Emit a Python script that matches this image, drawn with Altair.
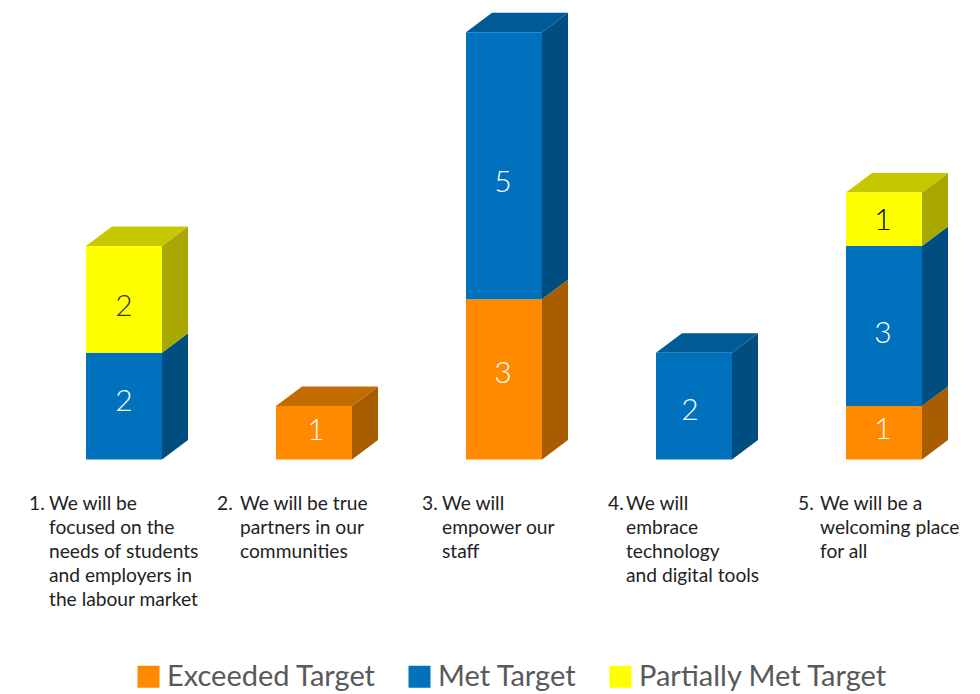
import altair as alt
import pandas as pd

# Results per commitment
exceeded = [0, 1, 3, 0, 1]
met = [2, 0, 5, 2, 3]
partial = [2, 0, 0, 0, 1]

commitment_numbers = ["1.", "2.", "3.", "4.", "5."]
commitment_lines = [
    ["We will be", "focused on the", "needs of students", "and employers in", "the labour market"],
    ["We will be true", "partners in our", "communities"],
    ["We will", "empower our", "staff"],
    ["We will", "embrace", "technology", "and digital tools"],
    ["We will be a", "welcoming place", "for all"],
]
series_names = ["Exceeded Target", "Met Target", "Partially Met Target"]
front_colors = ["#FF8A00", "#0071BC", "#FFFF00"]
side_colors = ["#A85E00", "#004E80", "#A8A800"]
top_colors = ["#C26C00", "#005A96", "#C7C700"]
value_text_colors = ["#FFFFFF", "#FFFFFF", "#333333"]

# Canvas geometry
WIDTH, HEIGHT = 980, 694
STEP_PX, UNIT_PX = 190.0, 53.4
FIRST_CENTER_PX, BASE_PX = 124.0, 459.5
BAR_HALF = 38.0 / STEP_PX
DEPTH_X = 26.0 / STEP_PX
DEPTH_Y = 19.5 / UNIT_PX

# Hand-placed nudges, in pixels (positive is right and down), for the in-bar values
value_nudges = {(0, 1): (0, -4), (0, 2): (0, 8), (1, 0): (2, -2), (2, 0): (-1, -5), (2, 1): (-1, 17),
                (3, 1): (-4, 5), (4, 0): (-1, -3), (4, 1): (-1, 8), (4, 2): (-1, 2)}
number_nudges = [-95, -97, -82, -86, -86]
caption_nudges = [-75, -74, -62, -68, -64]

x_domain = [-FIRST_CENTER_PX / STEP_PX, (WIDTH - FIRST_CENTER_PX) / STEP_PX]
y_domain = [(BASE_PX - HEIGHT) / UNIT_PX, BASE_PX / UNIT_PX]

fronts, sides, tops, values = [], [], [], []
for i in range(5):
    base = 0
    stack = [(s, v) for s, v in enumerate((exceeded[i], met[i], partial[i])) if v]
    for s, v in stack:
        seg = f"{i}-{s}"
        end = base + v
        left, right = i - BAR_HALF, i + BAR_HALF
        fronts.append({"x": left, "x2": right, "y": base, "y2": end, "series": series_names[s]})
        sides.append({"seg": seg, "x": right, "y": base, "y2": end, "fill": side_colors[s]})
        sides.append({"seg": seg, "x": right + DEPTH_X, "y": base + DEPTH_Y, "y2": end + DEPTH_Y, "fill": side_colors[s]})
        nx, ny = value_nudges.get((i, s), (0, 0))
        text_color = "#000000" if (i, s) == (4, 2) else value_text_colors[s]
        values.append({"x": i + nx / STEP_PX, "y": (base + end) / 2 - ny / UNIT_PX, "label": str(v), "color": text_color})
        base = end
    s = stack[-1][0]
    left, right = i - BAR_HALF, i + BAR_HALF
    for px, lo, hi in [(left, 0, 0), (left + DEPTH_X, 0, DEPTH_Y), (right, 0, DEPTH_Y), (right + DEPTH_X, DEPTH_Y, DEPTH_Y)]:
        tops.append({"seg": str(i), "x": px, "y": base + lo, "y2": base + hi, "fill": top_colors[s]})

caption_y = (BASE_PX - 495.0) / UNIT_PX
numbers = pd.DataFrame({
    "x": [i + number_nudges[i] / STEP_PX for i in range(5)],
    "y": [caption_y] * 5,
    "label": commitment_numbers,
})
captions = [
    {"x": i + caption_nudges[i] / STEP_PX, "y": caption_y, "label": commitment_lines[i]}
    for i in range(5)
]

x_scale = alt.Scale(domain=x_domain, nice=False, zero=False)
y_scale = alt.Scale(domain=y_domain, nice=False, zero=False)
X = alt.X("x:Q", scale=x_scale, axis=None)
Y = alt.Y("y:Q", scale=y_scale, axis=None, stack=None)

side_layer = alt.Chart(pd.DataFrame(sides)).mark_area(interpolate="linear").encode(
    x=X, y=Y, y2="y2:Q", detail="seg:N", fill=alt.Fill("fill:N", scale=None),
)
top_layer = alt.Chart(pd.DataFrame(tops)).mark_area(interpolate="linear").encode(
    x=X, y=Y, y2="y2:Q", detail="seg:N", fill=alt.Fill("fill:N", scale=None),
)
front_layer = alt.Chart(pd.DataFrame(fronts)).mark_rect().encode(
    x=X, x2="x2:Q", y=Y, y2="y2:Q",
    color=alt.Color(
        "series:N",
        scale=alt.Scale(domain=series_names, range=front_colors),
        legend=alt.Legend(
            title=None, orient="none", legendX=134, legendY=662, direction="horizontal",
            symbolType="square", symbolSize=484, symbolStrokeWidth=0, symbolOpacity=1,
            labelFont="Lato", labelFontSize=29, labelColor="#58595B", labelOffset=4,
            columnPadding=29, labelLimit=400,
        ),
    ),
)
value_layer = alt.Chart(pd.DataFrame(values)).mark_text(
    font="Lato", fontSize=30, fontWeight=300, align="center", baseline="middle",
).encode(x=X, y=Y, text="label:N", color=alt.Color("color:N", scale=None))
number_layer = alt.Chart(numbers).mark_text(
    font="Lato", fontSize=19.2, align="left", baseline="top", color="#222222",
).encode(x=X, y=Y, text="label:N")
caption_layer = alt.Chart(alt.Data(values=captions)).mark_text(
    font="Lato", fontSize=19.2, align="left", baseline="top", color="#222222", lineHeight=24,
).encode(x=X, y=Y, text="label:N")

chart = alt.layer(
    side_layer, top_layer, front_layer, value_layer, number_layer, caption_layer
).properties(
    width=WIDTH, height=HEIGHT, padding=0, background="#FFFFFF",
    autosize=alt.AutoSizeParams(type="none"),
).configure_view(stroke=None)

chart.save("out.html", embed_options={"renderer": "svg", "actions": False})
